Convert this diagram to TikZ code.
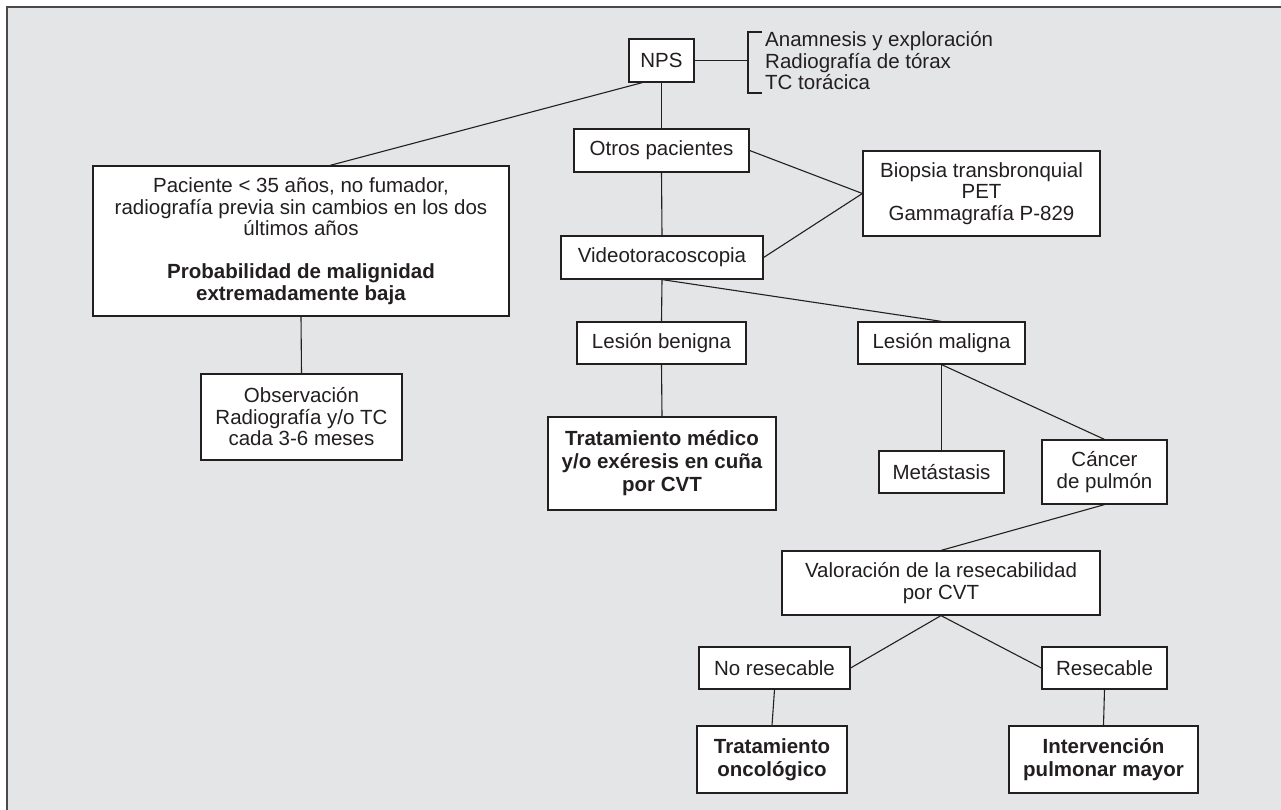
\documentclass[tikz,border=0pt]{standalone}
\usepackage{fontspec}
\setmainfont{Liberation Sans}
\usetikzlibrary{calc}
\definecolor{bg}{HTML}{E4E5E7}
\definecolor{ink}{HTML}{231F20}
\definecolor{frameline}{HTML}{4A4A4A}
\tikzset{
 box/.style={draw=ink, line width=1.2pt, fill=white, inner sep=0pt, align=center, text=ink,
   font=\fontsize{20.5}{21.5}\selectfont},
 boldbox/.style={box, font=\fontsize{20.5}{23}\selectfont\bfseries},
 conn/.style={draw=ink, line width=1.1pt},
 plain/.style={inner sep=0pt, align=left, text=ink, font=\fontsize{20.5}{21.5}\selectfont},
}
\begin{document}
\begin{tikzpicture}[x=1pt,y=-1pt]
\useasboundingbox (0,0) rectangle (1281,810);
\fill[bg] (7,7) rectangle (1281,810);
\draw[frameline, line width=1.6pt] (1281,7) -- (7,7) -- (7,810);

% nodes
\node[box, minimum width=65pt, minimum height=43pt] (nps) at (661.5,60.5) {NPS};
\node[plain, anchor=west] (list) at (765,61) {Anamnesis y exploración\\Radiografía de tórax\\TC torácica};
\coordinate (brk) at (748,60.5);

\node[box, minimum width=416pt, minimum height=150pt] (big) at (301,241)
 {Paciente < 35 años, no fumador,\\radiografía previa sin cambios en los dos\\últimos años\\[21.5pt]
  \textbf{Probabilidad de malignidad}\\\textbf{extremadamente baja}};
\node[box, minimum width=201pt, minimum height=86pt] (obs) at (301.5,417)
 {Observación\\Radiografía y/o TC\\cada 3-6 meses};

\node[box, minimum width=175pt, minimum height=43pt] (otros) at (661.5,150.5) {Otros pacientes};
\node[box, minimum width=202pt, minimum height=43pt] (video) at (662,257.5) {Videotoracoscopia};
\node[box, minimum width=237pt, minimum height=85pt] (biop) at (981.5,193.5)
 {Biopsia transbronquial\\PET\\Gammagrafía P-829};

\node[box, minimum width=169pt, minimum height=42pt] (ben) at (661.5,343) {Lesión benigna};
\node[box, minimum width=167pt, minimum height=42pt] (mal) at (941.5,343) {Lesión maligna};
\node[boldbox, minimum width=228pt, minimum height=93pt] (trat) at (662,463.5)
 {Tratamiento médico\\y/o exéresis en cuña\\por CVT};
\node[box, minimum width=125pt, minimum height=42pt] (meta) at (941.5,472) {Metástasis};
\node[box, minimum width=125pt, minimum height=64pt] (canc) at (1104.5,472) {Cáncer\\de pulmón};
\node[box, minimum width=318pt, minimum height=64pt] (valor) at (941,583)
 {Valoración de la resecabilidad\\por CVT};
\node[box, minimum width=151pt, minimum height=42pt] (nores) at (774.5,668) {No resecable};
\node[box, minimum width=125pt, minimum height=42pt] (res) at (1104.5,668) {Resecable};
\node[boldbox, minimum width=150pt, minimum height=67pt] (onco) at (772,759.5)
 {Tratamiento\\oncológico};
\node[boldbox, minimum width=189pt, minimum height=67pt] (interv) at (1103.5,759.5)
 {Intervención\\pulmonar mayor};

% connectors
\draw[conn] (nps.east) -- (brk);
\draw[conn] ($(brk)+(14,-28.5)$) -- ($(brk)+(0,-28.5)$) -- ($(brk)+(0,32.5)$) -- ($(brk)+(14,32.5)$);
\draw[conn] ($(nps.south west)+(14,0)$) -- ($(big.north)+(29,0)$);
\draw[conn] (nps.south) -- (otros.north);
\draw[conn] (otros.south) -- (video.north);
\draw[conn] (otros.east) -- (biop.west);
\draw[conn] (video.east) -- (biop.west);
\draw[conn] (big.south) -- (obs.north);
\draw[conn] (video.south) -- (ben.north);
\draw[conn] (video.south) -- (mal.north);
\draw[conn] (ben.south) -- (trat.north);
\draw[conn] (mal.south) -- (meta.north);
\draw[conn] (mal.south) -- (canc.north);
\draw[conn] (canc.south) -- (valor.north);
\draw[conn] (valor.south) -- (nores.east);
\draw[conn] (valor.south) -- (res.west);
\draw[conn] (nores.south) -- (onco.north);
\draw[conn] (res.south) -- (interv.north);
\end{tikzpicture}
\end{document}
